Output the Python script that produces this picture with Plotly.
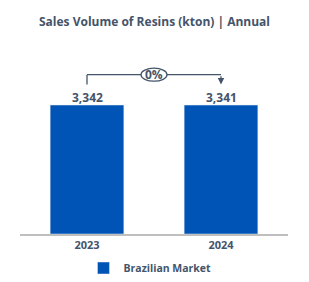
import plotly.graph_objects as go

categories = ["2023", "2024"]
values = [3342, 3341]
series_name = "Brazilian Market"
title = "Sales Volume of Resins (kton) | Annual"

blue = "#0054B6"
txt = "#44546A"
font = "Open Sans"

ymax = max(values) * 1.349
fig = go.Figure()
fig.add_trace(go.Bar(
    x=categories, y=values, name=series_name, marker_color=blue,
    showlegend=True,
))
for i, v in enumerate(values):
    fig.add_annotation(x=i, y=v, xref="x", yref="y", text=f"{v:,}", showarrow=False,
                       yanchor="bottom", yshift=-3,
                       font=dict(family=font, size=12, color=txt, weight="bold"))

pct = (values[1] - values[0]) / values[0] * 100
top = max(values) * 1.235
low = max(values) * 1.16
line = dict(color="#44546A", width=1.3)
fig.add_shape(type="line", xref="x", yref="y", x0=0, x1=0, y0=low, y1=top, line=line)
fig.add_shape(type="line", xref="x", yref="y", x0=0, x1=1, y0=top, y1=top, line=line)
fig.add_annotation(x=1, y=low, ax=1, ay=top, xref="x", yref="y", axref="x", ayref="y",
                   text="", showarrow=True, arrowhead=2, arrowsize=1, arrowwidth=1.3,
                   arrowcolor="#44546A")
fig.add_shape(type="circle", xref="x", yref="y", xsizemode="pixel", ysizemode="pixel",
              xanchor=0.5, yanchor=top, x0=-13, x1=13, y0=-6.5, y1=6.5,
              line=dict(color="#44546A", width=1.3), fillcolor="white")
fig.add_annotation(x=0.5, y=top, xref="x", yref="y", text=f"{round(pct):.0f}%",
                   showarrow=False, font=dict(family=font, size=12, color=txt, weight="bold"))

fig.update_layout(
    width=309, height=282,
    margin=dict(l=20, r=21, t=60, b=48, autoexpand=False),
    paper_bgcolor="white", plot_bgcolor="white",
    title=dict(text=title, x=0.5, xanchor="center", y=1 - 22 / 282, yanchor="middle",
               font=dict(family=font, size=12, color=txt, weight="bold")),
    bargap=0.45,
    xaxis=dict(type="category", range=[-0.5, 1.5], showline=True, linecolor="#BFBFBF",
               linewidth=1.5, ticks="", automargin=False,
               tickfont=dict(family=font, size=11, color=txt, weight="bold")),
    yaxis=dict(range=[0, ymax], visible=False),
    legend=dict(orientation="h", x=0.485, xanchor="center", yref="container",
                y=1 - 268 / 282, yanchor="middle",
                font=dict(family=font, size=10.5, color=txt, weight="bold")),
)
fig.write_html("out.html")
